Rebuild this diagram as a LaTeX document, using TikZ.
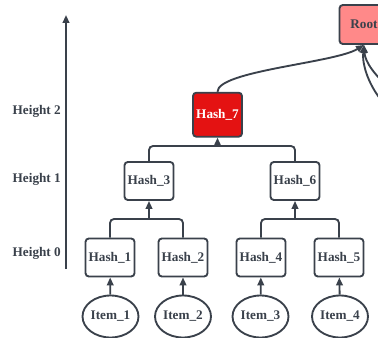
\documentclass[tikz,border=0pt]{standalone}
\usepackage{fontspec}
\setmainfont{Liberation Serif}
\usetikzlibrary{arrows.meta,shapes.geometric}

\definecolor{linegray}{RGB}{58,65,75}
\definecolor{hashred}{RGB}{228,18,18}
\definecolor{rootpink}{RGB}{255,137,137}

\begin{document}
\begin{tikzpicture}[x=0.75pt,y=-0.75pt,
    every node/.style={font=\bfseries\fontsize{9.9}{11}\selectfont, text=linegray},
    hashbox/.style={draw=linegray, line width=1.4pt, rounded corners=2.5pt, fill=white,
        minimum width=36.75pt, minimum height=28.5pt, inner sep=0pt},
    itembox/.style={ellipse, draw=linegray, line width=1.4pt, fill=white,
        minimum width=35.25pt, minimum height=31.5pt, inner sep=0pt},
    heightlabel/.style={anchor=east, inner sep=0pt},
    link/.style={draw=linegray, line width=1.4pt, rounded corners=3pt},
    arr/.style={link, -{Triangle[length=6pt,width=5pt]}}]
\useasboundingbox (0,0) rectangle (378,338);
\clip (0,0) rectangle (378,338);

% height axis
\coordinate (ax0) at (66,269);
\coordinate (ax1) at (66,15);
\draw[arr] (ax0) -- (ax1);
\node[heightlabel] (lh2) at (61,111.7) {Height 2};
\node[heightlabel] (lh1) at (61,179) {Height 1};
\node[heightlabel] (lh0) at (61,253) {Height 0};

% leaves
\foreach \n/\x in {1/110,2/183,4/261,5/339} {
    \node[hashbox] (h\n) at (\x,257.5) {Hash\_\n};
}
\foreach \n/\x in {1/110.5,2/183,3/260.5,4/340} {
    \node[itembox] (i\n) at (\x,316.5) {Item\_\n};
}
\foreach \i/\h in {1/1,2/2,3/4,4/5} {
    \draw[arr] (i\i) -- (h\h);
}

% upper levels
\node[hashbox] (h3) at (149,181) {Hash\_3};
\node[hashbox] (h6) at (295,181) {Hash\_6};
\node[hashbox, fill=hashred, text=white, minimum height=33pt] (h7) at (217.5,114.7) {Hash\_7};
\node[hashbox, fill=rootpink, minimum height=29.25pt] (root) at (364,24.5) {Root};

\coordinate (j3) at (149,219);
\coordinate (j6) at (295,219);
\coordinate (j7) at (217.5,146);
\draw[link] (h1.north) |- (j3) -| (h2.north);
\draw[arr] (j3) -- (h3.south);
\draw[link] (h4.north) |- (j6) -| (h5.north);
\draw[arr] (j6) -- (h6.south);
\draw[link] (h3.north) |- (j7) -| (h6.north);
\draw[arr] (j7) -- (h7.south);

% into the root
\draw[arr] (h7.north) .. controls +(0,-21) and +(-29,18) .. (root.south);
\coordinate (offa) at (392,90);
\coordinate (offb) at (386,106);
\draw[arr] (offa) .. controls (375,76) and (365,62) .. (root.south);
\draw[arr] (offb) .. controls (368,86) and (362,64) .. (root.south);
\end{tikzpicture}
\end{document}
